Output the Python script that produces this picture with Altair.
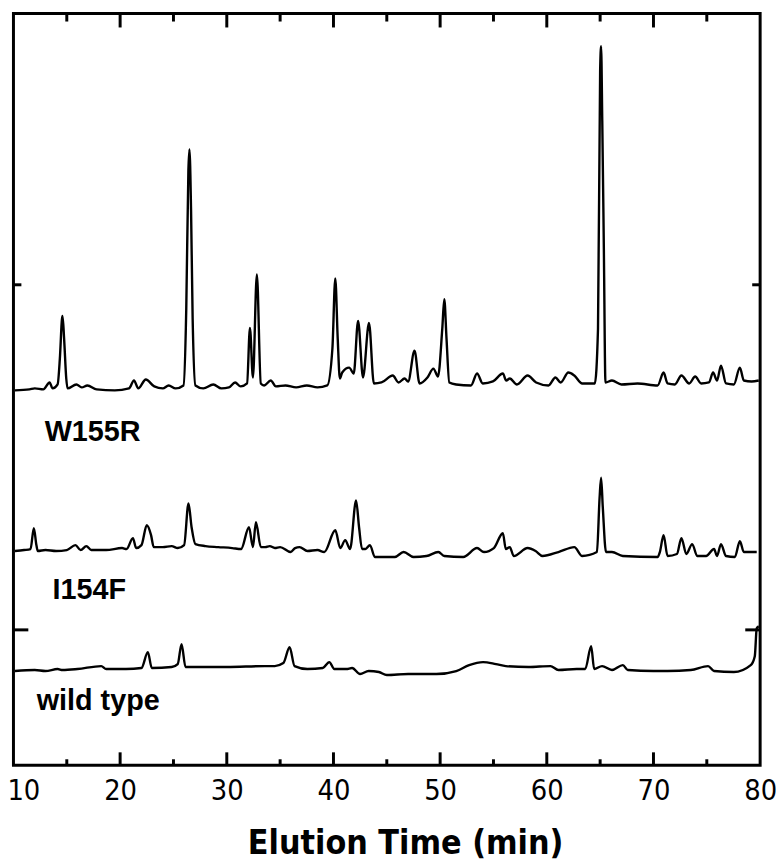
import altair as alt
import pandas as pd

# ---- data (time in min, signal in arbitrary offset units) ----
w155r_t = [10.14, 11.5, 12.0, 12.8, 13.39, 13.67, 14.14, 14.35, 14.55, 14.6, 14.75, 14.95, 15.07, 15.9, 16.4, 16.93,
           17.8, 19.5, 20.83, 21.3, 21.7, 22.41, 23.2, 24.0, 24.55, 25.2, 25.94, 26.2, 26.4, 26.5, 26.65, 26.8, 27.06,
           27.8, 28.73, 29.5, 30.2, 30.78, 31.3, 31.9, 32.17, 32.45, 32.82, 33.19, 33.5, 34.12, 34.6, 35.5, 36.5,
           37.5, 38.5, 39.42, 39.9, 40.17, 40.4, 40.6, 40.82, 41.47, 41.9, 42.31, 42.77, 43.33, 43.79, 44.5, 45.56,
           46.1, 46.67, 47.0, 47.6, 48.07, 48.81, 49.37, 49.8, 50.2, 50.39, 50.6, 50.86, 51.5, 52.9, 53.46, 54.0,
           54.95, 55.88, 56.2, 56.53, 57.2, 58.2, 59.0, 60.16, 60.81, 61.3, 62.02, 62.58, 63.32, 64.5, 64.8, 65.0,
           65.09, 65.2, 65.35, 65.5, 66.11, 67.0, 68.5, 70.39, 70.95, 71.32, 72.0, 72.62, 73.35, 73.91, 74.47, 75.2,
           75.59, 75.96, 76.33, 76.8, 77.54, 78.1, 78.47, 79.2, 79.87]
w155r_v = [378, 379, 380, 379, 386, 380, 384, 410, 450, 453, 430, 390, 380, 384, 381, 383,
           379, 378, 380, 388, 380, 389, 382, 380, 383, 380, 383, 460, 600, 621, 560, 450, 383,
           380, 384, 380, 381, 386, 382, 385, 441, 391, 495, 385, 383, 388, 382, 383, 381,
           383, 381, 383, 420, 491, 430, 390, 396, 401, 395, 448, 391, 446, 385, 386, 393,
           386, 390, 387, 418, 385, 391, 400, 392, 440, 470, 430, 386, 384, 383, 395, 385,
           387, 395, 388, 390, 384, 393, 386, 383, 391, 386, 396, 393, 385, 385, 440, 700,
           725, 650, 520, 386, 388, 384, 385, 383, 396, 385, 384, 393, 385, 392, 385, 386,
           396, 388, 403, 385, 384, 401, 388, 387, 388]

i154f_t = [10.14, 11.0, 11.6, 11.91, 12.15, 12.28, 13.0, 14.0, 15.0, 15.81, 16.3, 16.83, 17.3, 18.69, 20.18, 20.6,
           21.2, 21.5, 22.0, 22.5, 22.9, 23.15, 24.0, 24.83, 25.4, 26.0, 26.41, 26.7, 27.06, 28.0, 29.2, 30.5,
           31.34, 32.08, 32.45, 32.73, 33.19, 33.6, 34.03, 34.5, 35.0, 35.98, 36.4, 36.82, 37.56, 38.5, 39.14,
           40.17, 40.64, 41.1, 41.56, 42.12, 42.4, 42.68, 43.0, 43.42, 43.88, 45.0, 45.75, 46.58, 47.51, 48.72,
           49.83, 50.39, 52.16, 53.46, 54.11, 55.04, 55.88, 56.16, 56.53, 56.9, 58.2, 58.95, 59.6, 61.09, 62.58,
           63.32, 64.7, 64.95, 65.09, 65.25, 65.55, 66.11, 67.13, 70.39, 70.6, 70.95, 71.32, 72.2, 72.62, 73.08,
           73.63, 74.1, 74.93, 75.68, 75.96, 76.33, 76.8, 77.63, 78.1, 78.47, 79.68]
i154f_v = [216, 217, 218, 239, 222, 216, 217, 216, 217, 222, 217, 221, 217, 217, 219, 218,
           229, 219, 222, 242, 232, 220, 220, 221, 219, 222, 264, 240, 223, 221, 220, 219,
           218, 240, 220, 245, 220, 220, 221, 219, 220, 215, 219, 220, 216, 217, 215,
           237, 219, 227, 218, 267, 240, 218, 218, 222, 210, 210, 210, 215, 210, 211,
           215, 211, 210, 219, 215, 219, 234, 218, 220, 211, 219, 216, 211, 215, 220,
           211, 215, 270, 290, 260, 215, 215, 211, 210, 215, 232, 211, 213, 229, 213,
           223, 211, 211, 218, 211, 223, 211, 210, 226, 215, 215]

wt_t = [10.14, 12.0, 13.0, 14.14, 14.6, 16.0, 18.23, 18.7, 20.55, 22.0, 22.6, 22.97, 24.83, 25.4, 25.76, 26.13,
        28.0, 30.0, 33.57, 34.5, 35.3, 35.89, 36.35, 37.56, 39.0, 39.61, 40.08, 41.2, 41.75, 42.49, 43.3, 44.26,
        45.0, 47.0, 49.65, 51.51, 52.72, 54.02, 55.23, 56.16, 58.29, 60.34, 61.09, 62.8, 63.6, 64.16, 64.44,
        65.18, 66.11, 67.13, 67.6, 70.0, 71.32, 73.5, 75.12, 75.68, 77.54, 79.12, 79.5, 79.68, 79.87]
wt_v = [95, 96, 95, 97, 96, 97, 100, 97, 97, 98, 114, 98, 99, 102, 122, 99,
        99, 99, 100, 100, 103, 119, 100, 97, 98, 104, 97, 97, 98, 92, 95, 94,
        91, 92, 92, 95, 101, 104, 102, 100, 99, 100, 96, 97, 97, 120, 97,
        100, 96, 101, 96, 95, 95, 96, 100, 95, 94, 101, 110, 138, 140]

x_label_values = [10, 20, 30, 40, 50, 60, 70, 80]
x_major_ticks = [20, 30, 40, 50, 60, 70]
x_minor_ticks = [15, 25, 35, 45, 55, 65, 75]
y_major_ticks = [136.5]
y_minor_ticks = [484.5]

label_text = ["W155R", "I154F", "wild type"]
label_t = [12.93, 13.67, 12.18]
label_v = [327, 168, 56]

# ---- tables ----
frames = []
for name, ts, vs in [("W155R", w155r_t, w155r_v), ("I154F", i154f_t, i154f_v), ("wild type", wt_t, wt_v)]:
    frames.append(pd.DataFrame({"series": name, "t": ts, "v": vs}))
traces = pd.concat(frames, ignore_index=True)

FONT = "'DejaVu Sans Condensed', 'Liberation Sans', Arial, sans-serif"

W, H = 753, 758
x_scale = alt.Scale(domain=[10, 80], nice=False, zero=False)
y_scale = alt.Scale(domain=[0, H], nice=False, zero=False)

lines = alt.Chart(traces).mark_line(color="black", strokeWidth=2.4, strokeJoin="round",
                                    interpolate="monotone").encode(
    x=alt.X("t:Q", scale=x_scale,
            axis=alt.Axis(values=x_label_values, ticks=False, domain=False, grid=False,
                          labelFont=FONT, labelFontSize=29, labelColor="black",
                          labelPadding=12, labelFlush=False,
                          labelOffset={"condition": {"test": "datum.value == 10", "value": 10}, "value": 0},
                          title="Elution Time (min)", titleFont=FONT,
                          titleFontSize=34, titleFontWeight="bold", titleColor="black",
                          titlePadding=21, titleX=395)),
    y=alt.Y("v:Q", scale=y_scale, axis=None),
    detail="series:N",
)

xmaj = pd.DataFrame({"t": x_major_ticks})
xmin = pd.DataFrame({"t": x_minor_ticks})
ymaj = pd.DataFrame({"v": y_major_ticks})
ymin = pd.DataFrame({"v": y_minor_ticks})

def xtick(df, y0, y1):
    return alt.Chart(df).mark_rule(color="black", strokeWidth=3).encode(
        x=alt.X("t:Q", scale=x_scale), y=alt.value(y0), y2=alt.value(y1))

def ytick(df, x0, x1):
    return alt.Chart(df).mark_rule(color="black", strokeWidth=3).encode(
        y=alt.Y("v:Q", scale=y_scale), x=alt.value(x0), x2=alt.value(x1))

ticks = [
    xtick(xmaj, H, H - 13), xtick(xmin, H, H - 6),
    xtick(xmaj, 0, 14), xtick(xmin, 0, 8),
    ytick(ymaj, 0, 15), ytick(ymin, 0, 8),
    ytick(ymaj, W, W - 15), ytick(ymin, W, W - 8),
]

labels_df = pd.DataFrame({"label": label_text, "t": label_t, "v": label_v})
labels = alt.Chart(labels_df).mark_text(
    align="left", baseline="alphabetic", font="Liberation Sans", fontSize=29, fontWeight="bold", color="black"
).encode(x=alt.X("t:Q", scale=x_scale), y=alt.Y("v:Q", scale=y_scale), text="label:N")

chart = alt.layer(lines, *ticks, labels).properties(
    width=W, height=H,
    background="white",
    autosize=alt.AutoSizeParams(type="none"),
    padding={"left": 5.5, "top": 2, "right": 16, "bottom": 99},
).configure_view(stroke="black", strokeWidth=3, fill="white", strokeOpacity=1)

chart.save("out.html", embed_options={"renderer": "svg", "actions": False})
